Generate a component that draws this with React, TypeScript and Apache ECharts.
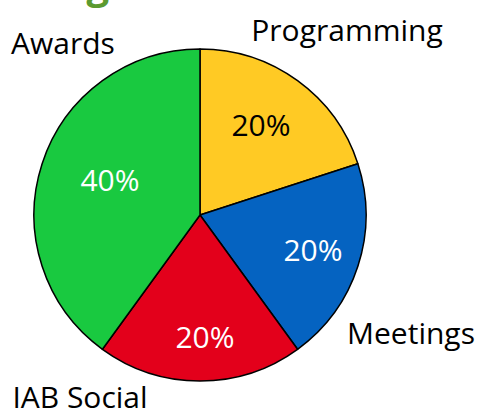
import React, { useEffect, useRef } from "react";
import * as echarts from "echarts";

const categories = ["Programming", "Meetings", "IAB Social", "Awards"];
const values = [20, 20, 20, 40];
const colors = ["#FFCA24", "#0563C1", "#E3001B", "#19C940"];
const insideTextColors = ["#000000", "#ffffff", "#ffffff", "#ffffff"];
const titleText = "Budget";

// label anchor points (layout only)
const outsidePos = [
  [347, 29],
  [411, 332],
  [80, 396],
  [63, 42],
];
const insidePos = [
  [261, 124],
  [313, 249],
  [205, 336],
  [110, 179],
];

const FONT = "'Open Sans', sans-serif";

export default function App() {
  const ref = useRef<HTMLDivElement>(null);
  useEffect(() => {
    if (!ref.current) return;
    const chart = echarts.init(ref.current, null, { renderer: "svg" });
    const data = categories.map((name, i) => ({
      name,
      value: values[i],
      itemStyle: { color: colors[i] },
      label: { color: insideTextColors[i] },
    }));
    chart.setOption({
      animation: false,
      graphic: [
        {
          type: "text",
          left: 8,
          top: -37,
          style: {
            text: titleText,
            fill: "#5B9A30",
            font: `bold 40px ${FONT}`,
          },
        },
      ],
      series: [
        {
          type: "pie",
          center: [200, 215],
          radius: [0, 166],
          startAngle: 90,
          clockwise: true,
          silent: true,
          itemStyle: { borderColor: "#000", borderWidth: 1.5 },
          label: {
            show: true,
            position: "inside",
            formatter: "{d}%",
            fontFamily: FONT,
            fontSize: 30,
            overflow: "none",
          },
          labelLine: { show: false },
          labelLayout: (p: any) => ({
            x: insidePos[p.dataIndex][0],
            y: insidePos[p.dataIndex][1],
            align: "center",
            verticalAlign: "middle",
            hideOverlap: false,
          }),
          data,
        },
        {
          type: "pie",
          center: [200, 215],
          radius: [0, 166],
          startAngle: 90,
          clockwise: true,
          silent: true,
          itemStyle: { color: "transparent", borderWidth: 0 },
          label: {
            show: true,
            position: "outside",
            formatter: "{b}",
            color: "#000",
            fontFamily: FONT,
            fontSize: 30,
            lineHeight: 28,
            overflow: "none",
            width: 300,
          },
          labelLine: { show: false },
          labelLayout: (p: any) => ({
            x: outsidePos[p.dataIndex][0],
            y: outsidePos[p.dataIndex][1],
            align: "center",
            verticalAlign: "middle",
            hideOverlap: false,
          }),
          data: categories.map((name, i) => ({ name, value: values[i] })),
        },
      ],
    });
    return () => chart.dispose();
  }, []);
  return (
    <div
      ref={ref}
      style={{ position: "fixed", left: 0, top: 0, width: 485, height: 416, background: "#fff" }}
    />
  );
}
